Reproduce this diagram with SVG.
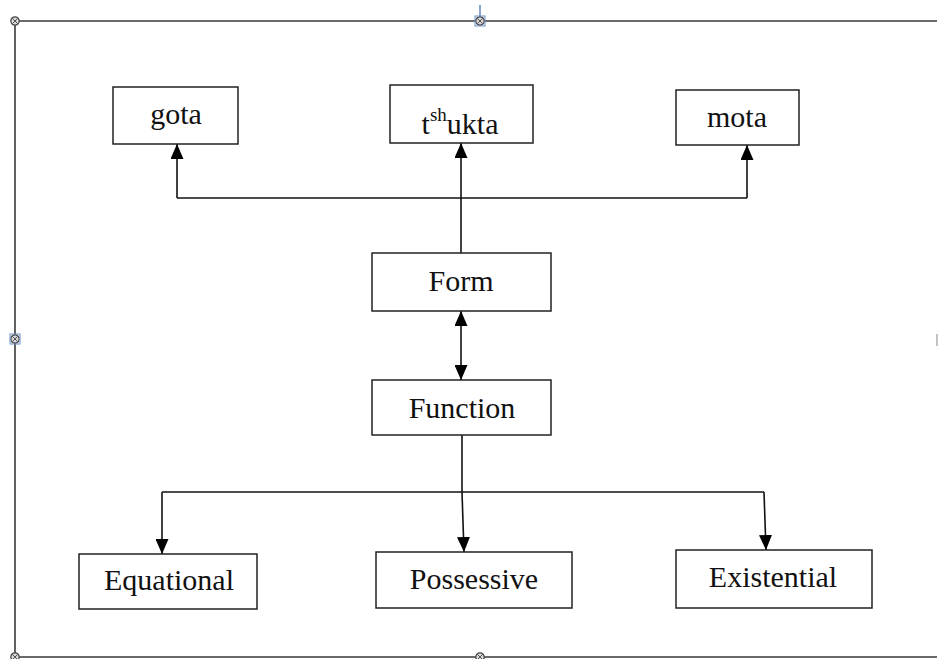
<svg xmlns="http://www.w3.org/2000/svg" width="938" height="659" viewBox="0 0 938 659">
  <style>
    .frame { fill: none; stroke: #3a3a3a; stroke-width: 1.6; }
    .box { fill: #ffffff; stroke: #222; stroke-width: 1.5; }
    .lbl { font-family: "Liberation Serif", "Times New Roman", serif; font-size: 30px; fill: #111; text-anchor: middle; }
    .sup { font-size: 19px; }
    .wire { fill: none; stroke: #111; stroke-width: 1.6; }
    .handle { fill: #d8d8d8; stroke: #444; stroke-width: 1.2; }
    .hx { stroke: #444; stroke-width: 0.9; }
  </style>
  <defs>
    <marker id="tip" viewBox="0 0 15 13" refX="15" refY="6.5" markerWidth="15" markerHeight="13" markerUnits="userSpaceOnUse" orient="auto">
      <path d="M0,0 L15,6.5 L0,13 Z" fill="#000"/>
    </marker>
    <marker id="tail" viewBox="0 0 15 13" refX="0" refY="6.5" markerWidth="15" markerHeight="13" markerUnits="userSpaceOnUse" orient="auto">
      <path d="M15,0 L0,6.5 L15,13 Z" fill="#000"/>
    </marker>
    <g id="hdl">
      <circle class="handle" r="4.2"/>
      <path class="hx" d="M-2.5,-2.5 L2.5,2.5 M2.5,-2.5 L-2.5,2.5"/>
    </g>
  </defs>

  <!-- selection frame -->
  <g id="frame">
    <path class="frame" d="M15,21 H937 M15,21 V657 M15,657 H937"/>
    <line x1="480" y1="5" x2="480" y2="19" stroke="#6f8fc4" stroke-width="1.6"/>
    <line x1="937" y1="334" x2="937" y2="346" stroke="#9a9a9a" stroke-width="1.2"/>
    <use href="#hdl" x="15" y="21"/>
    <use href="#hdl" x="480" y="21"/>
    <rect x="475" y="16" width="10" height="10" fill="none" stroke="#6f8fc4" stroke-width="1"/>
    <use href="#hdl" x="15" y="339"/>
    <rect x="10" y="334" width="10" height="10" fill="none" stroke="#6f8fc4" stroke-width="1"/>
    <use href="#hdl" x="15" y="657"/>
    <use href="#hdl" x="480" y="657"/>
  </g>

  <!-- connectors -->
  <g id="connectors">
    <path class="wire" d="M177,198 H747"/>
    <path class="wire" d="M177,198 V144" marker-end="url(#tip)"/>
    <path class="wire" d="M747,198 V145" marker-end="url(#tip)"/>
    <path class="wire" d="M461,253 V143" marker-end="url(#tip)"/>
    <path class="wire" d="M461,311 V380" marker-start="url(#tail)" marker-end="url(#tip)"/>
    <path class="wire" d="M462,435 V492"/>
    <path class="wire" d="M162,492 H764"/>
    <path class="wire" d="M162,492 V554" marker-end="url(#tip)"/>
    <path class="wire" d="M462,492 L464,552" marker-end="url(#tip)"/>
    <path class="wire" d="M764,492 L766,550" marker-end="url(#tip)"/>
  </g>

  <g id="gota">
    <rect class="box" x="113" y="87" width="125" height="57"/>
    <text class="lbl" x="176" y="124">gota</text>
  </g>
  <g id="tshukta">
    <rect class="box" x="390" y="85" width="143" height="58"/>
    <text class="lbl" x="460" y="134">t<tspan class="sup" dy="-13">sh</tspan><tspan dy="13">ukta</tspan></text>
  </g>
  <g id="mota">
    <rect class="box" x="676" y="90" width="123" height="55"/>
    <text class="lbl" x="737" y="127">mota</text>
  </g>
  <g id="form">
    <rect class="box" x="372" y="253" width="179" height="58"/>
    <text class="lbl" x="461" y="291">Form</text>
  </g>
  <g id="function">
    <rect class="box" x="372" y="380" width="179" height="55"/>
    <text class="lbl" x="462" y="418">Function</text>
  </g>
  <g id="equational">
    <rect class="box" x="79" y="554" width="178" height="55"/>
    <text class="lbl" x="169" y="590">Equational</text>
  </g>
  <g id="possessive">
    <rect class="box" x="376" y="552" width="196" height="56"/>
    <text class="lbl" x="474" y="589">Possessive</text>
  </g>
  <g id="existential">
    <rect class="box" x="676" y="550" width="196" height="58"/>
    <text class="lbl" x="773" y="587">Existential</text>
  </g>
</svg>
